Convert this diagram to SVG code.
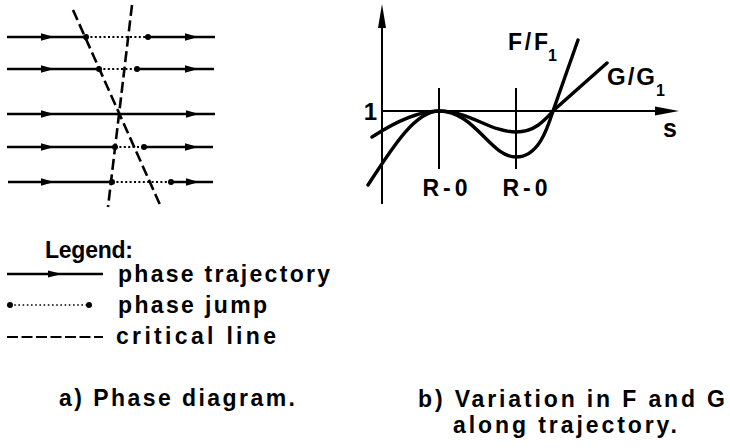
<svg xmlns="http://www.w3.org/2000/svg" xmlns:xlink="http://www.w3.org/1999/xlink" width="730" height="448" viewBox="0 0 730 448">
<style>
  text { font-family: "Liberation Sans", Arial, sans-serif; font-weight: bold; fill: #000; }
  .traj { stroke: #000; stroke-width: 2.3; fill: none; }
  .jump { stroke: #000; stroke-width: 2; stroke-dasharray: 2 2.4; fill: none; }
  .crit { stroke: #000; stroke-width: 2.6; stroke-dasharray: 11 4.5; fill: none; }
  .axis { stroke: #000; stroke-width: 2; fill: none; }
  .curve { stroke: #000; stroke-width: 3.4; fill: none; stroke-linecap: round; }
  .dot { fill: #000; }
  .lg { font-size: 23px; }
  .cap { font-size: 23px; }
</style>
<defs>
  <path id="ah" d="M0,0 L-13,-3.8 L-13,3.8 Z" fill="#000"/>
</defs>
<rect width="730" height="448" fill="#fff"/>

<g id="phase-diagram">
  <g id="trajectories">
    <line class="traj" x1="7" y1="37" x2="86" y2="37"/>
    <line class="traj" x1="148" y1="37" x2="215" y2="37"/>
    <line class="traj" x1="7" y1="69" x2="99" y2="69"/>
    <line class="traj" x1="137" y1="69" x2="214" y2="69"/>
    <line class="traj" x1="7" y1="114" x2="215" y2="114"/>
    <line class="traj" x1="7" y1="147" x2="115" y2="147"/>
    <line class="traj" x1="144" y1="147" x2="213" y2="147"/>
    <line class="traj" x1="8" y1="182" x2="112" y2="182"/>
    <line class="traj" x1="171" y1="182" x2="213" y2="182"/>
    <use xlink:href="#ah" x="54" y="37"/>
    <use xlink:href="#ah" x="198" y="37"/>
    <use xlink:href="#ah" x="54" y="69"/>
    <use xlink:href="#ah" x="198" y="69"/>
    <use xlink:href="#ah" x="54" y="114"/>
    <use xlink:href="#ah" x="199" y="114"/>
    <use xlink:href="#ah" x="54" y="147"/>
    <use xlink:href="#ah" x="198" y="147"/>
    <use xlink:href="#ah" x="54" y="182"/>
    <use xlink:href="#ah" x="199" y="182"/>
  </g>
  <g id="jumps">
    <line class="jump" x1="86" y1="37" x2="148" y2="37"/>
    <line class="jump" x1="99" y1="69" x2="137" y2="69"/>
    <line class="jump" x1="115" y1="147" x2="144" y2="147"/>
    <line class="jump" x1="112" y1="182" x2="171" y2="182"/>
    <circle class="dot" cx="86" cy="37" r="3"/>
    <circle class="dot" cx="148" cy="37" r="3"/>
    <circle class="dot" cx="99" cy="69" r="3"/>
    <circle class="dot" cx="137" cy="69" r="3"/>
    <circle class="dot" cx="115" cy="147" r="3"/>
    <circle class="dot" cx="144" cy="147" r="3"/>
    <circle class="dot" cx="112" cy="182" r="3"/>
    <circle class="dot" cx="171" cy="182" r="3"/>
  </g>
  <g id="critical-lines">
    <line class="crit" x1="73" y1="10" x2="161" y2="207"/>
    <line class="crit" x1="132" y1="5" x2="108" y2="207"/>
  </g>
</g>

<g id="legend">
  <text class="lg" x="45" y="258" textLength="88" lengthAdjust="spacing">Legend:</text>
  <line class="traj" x1="7" y1="274" x2="103" y2="274"/>
  <path d="M62,274 L48,270.5 L48,277.5 Z" fill="#000"/>
  <text class="lg" x="118" y="282" textLength="212" lengthAdjust="spacing">phase trajectory</text>
  <line class="jump" x1="10" y1="305" x2="89" y2="305" style="stroke-width:1.6;stroke-dasharray:1.6 2.6"/>
  <circle class="dot" cx="10" cy="305" r="3"/>
  <circle class="dot" cx="89" cy="305" r="3"/>
  <text class="lg" x="118" y="313" textLength="149" lengthAdjust="spacing">phase jump</text>
  <line class="crit" x1="7" y1="337" x2="103" y2="337" style="stroke-width:2;stroke-dasharray:11 3.5"/>
  <text class="lg" x="116" y="344" textLength="160" lengthAdjust="spacing">critical line</text>
</g>

<g id="variation-graph">
  <g id="axes">
    <line class="axis" x1="382" y1="26" x2="382" y2="204"/>
    <path d="M382,4 L378,28 L386,28 Z" fill="#000"/>
    <line class="axis" x1="382" y1="111" x2="657" y2="111"/>
    <path d="M679,111 L655,106.5 L655,115.5 Z" fill="#000"/>
    <line class="axis" x1="439" y1="88" x2="439" y2="169"/>
    <line class="axis" x1="516" y1="88" x2="516" y2="169"/>
  </g>
  <g id="curves">
    <path id="g-curve" class="curve" d="M372,137 C395,122 420,111 439,111 C470,111 490,132 516,132 C535,132 545,120 554,110 L607,63"/>
    <path id="f-curve" class="curve" d="M368,185 C392,148 415,111 439,111 C475,111 490,157 516,157 C538,157 547,130 553,111 L578,40"/>
  </g>
  <g id="labels">
    <text x="377" y="120" font-size="24" text-anchor="end">1</text>
    <text x="663" y="137" font-size="25">s</text>
    <text x="445" y="196" font-size="23" text-anchor="middle" textLength="45" lengthAdjust="spacing">R-0</text>
    <text x="525" y="196" font-size="23" text-anchor="middle" textLength="45" lengthAdjust="spacing">R-0</text>
    <text x="508" y="50" font-size="23" textLength="40" lengthAdjust="spacing">F/F</text>
    <text x="548" y="61" font-size="16">1</text>
    <text x="607" y="85" font-size="24" textLength="48" lengthAdjust="spacing">G/G</text>
    <text x="656" y="96" font-size="16">1</text>
  </g>
</g>

<g id="captions">
  <text class="cap" x="59" y="406" textLength="236" lengthAdjust="spacing">a) Phase diagram.</text>
  <text class="cap" x="418" y="407" textLength="307" lengthAdjust="spacing">b) Variation in F and G</text>
  <text class="cap" x="453" y="433" textLength="224" lengthAdjust="spacing">along trajectory.</text>
</g>
</svg>
